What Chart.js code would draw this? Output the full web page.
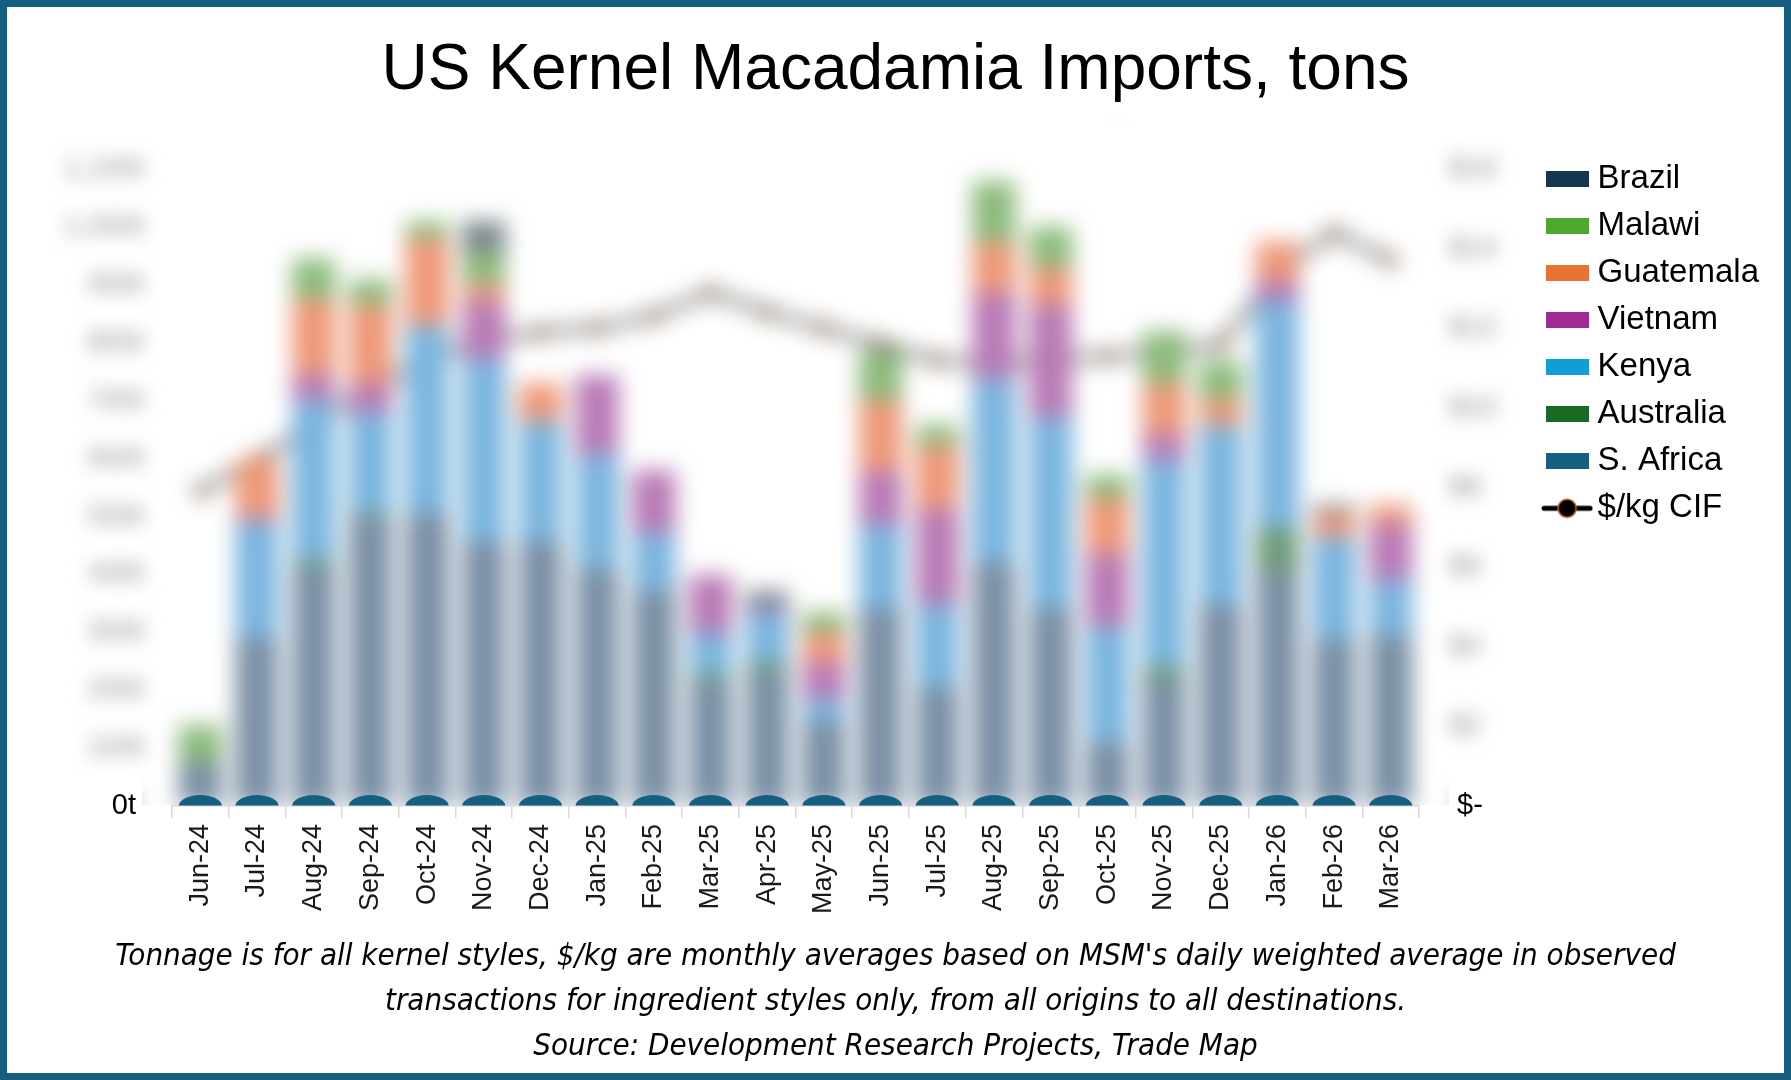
<!DOCTYPE html>
<html><head><meta charset="utf-8">
<script src="https://cdn.jsdelivr.net/npm/chart.js@4.4.1/dist/chart.umd.min.js"></script>
<style>
html,body{margin:0;padding:0;background:#fff;}
#wrap{position:relative;width:1791px;height:1080px;overflow:hidden;background:#fff;}
#frame{position:absolute;left:0;top:0;width:1791px;height:1080px;box-sizing:border-box;border:7px solid #165e80;pointer-events:none;}
canvas{display:block;}
</style></head><body>
<div id="wrap"><canvas id="c" width="1791" height="1080"></canvas><div id="frame"></div></div>
<script>
// ---- data ----
const months = ['Jun-24','Jul-24','Aug-24','Sep-24','Oct-24','Nov-24','Dec-24','Jan-25','Feb-25','Mar-25','Apr-25','May-25','Jun-25','Jul-25','Aug-25','Sep-25','Oct-25','Nov-25','Dec-25','Jan-26','Feb-26','Mar-26'];
const sAfrica   = [70, 290, 410, 500, 505, 457, 457, 410, 372, 212, 229, 148, 342, 206, 421, 342, 110, 215, 347, 406, 288, 295];
const australia = [10, 0, 15, 7, 0, 0, 0, 0, 0, 15, 20, 0, 0, 0, 0, 0, 0, 25, 0, 74, 0, 0];
const kenya     = [0, 200, 275, 173, 325, 316, 208, 197, 100, 72, 86, 36, 143, 143, 316, 330, 200, 358, 310, 392, 177, 96];
const vietnam   = [0, 10, 45, 50, 0, 100, 0, 137, 108, 100, 10, 65, 94, 165, 150, 194, 126, 45, 0, 37, 0, 96];
const guatemala = [0, 100, 130, 136, 150, 28, 65, 0, 0, 0, 0, 51, 122, 108, 87, 65, 96, 88, 45, 66, 40, 33];
const malawi    = [60, 0, 70, 43, 30, 57, 0, 0, 0, 0, 0, 35, 86, 36, 105, 69, 40, 89, 66, 0, 0, 0];
const brazil    = [0, 0, 0, 0, 0, 52, 0, 0, 0, 0, 26, 0, 0, 0, 0, 0, 0, 0, 0, 0, 15, 0];
const priceCIF  = [7.9, 8.7, 9.6, 10.5, 11.2, 11.7, 11.9, 12.0, 12.3, 12.9, 12.4, 12.0, 11.6, 11.2, 11.1, 11.2, 11.3, 11.4, 11.6, 13.4, 14.4, 13.7];

const seriesNames = ['S. Africa','Australia','Kenya','Vietnam','Guatemala','Malawi','Brazil'];
const seriesData  = [sAfrica, australia, kenya, vietnam, guatemala, malawi, brazil];
const lineName = '$/kg CIF';

const leftTickTop = 1100, leftStep = 100;
const rightTickTop = 16, rightStep = 2;
const leftAxisMax = 1135, rightAxisMax = 16.51;

const titleText = 'US Kernel Macadamia Imports, tons';
const footLines = [
  "Tonnage is for all kernel styles, $/kg are monthly averages based on MSM's daily weighted average in observed",
  "transactions for ingredient styles only, from all origins to all destinations.",
  "Source: Development Research Projects, Trade Map"
];

// ---- styles ----
const legendColors = ['#156082','#196b24','#0f9ed5','#a02b93','#e97132','#4ea72e','#12384f'];
const barColors    = ['#7a8fa5','#6f9a7a','#7ab5de','#b87ab5','#ee9878','#8cba7c','#78848a'];
const SANS = "'Liberation Sans', Arial, sans-serif";
const NARROW = "'Liberation Sans Narrow', 'DejaVu Sans Condensed', 'Liberation Sans', sans-serif";

function makeIcon(draw) {
  const c = document.createElement('canvas'); c.width = 52; c.height = 22;
  draw(c.getContext('2d'));
  return c;
}
const lineIcon = makeIcon(g => {
  g.strokeStyle = '#000'; g.lineWidth = 5; g.lineCap = 'round';
  g.beginPath(); g.moveTo(3, 11); g.lineTo(49, 11); g.stroke();
  g.beginPath(); g.arc(26, 11, 9, 0, Math.PI * 2); g.fillStyle = '#000'; g.fill();
  g.lineWidth = 1.5; g.strokeStyle = '#c55a11'; g.stroke();
});
const boxIcons = legendColors.map(col => {
  const c = document.createElement('canvas'); c.width = 43; c.height = 16;
  const g = c.getContext('2d'); g.fillStyle = col; g.fillRect(0, 0, 43, 16);
  return c;
});

const datasets = seriesNames.map((n, i) => ({
  type: 'bar', label: n, data: seriesData[i], backgroundColor: barColors[i],
  borderWidth: 0, stack: 's', yAxisID: 'y', categoryPercentage: 1, barPercentage: 0.76
}));
datasets.push({
  type: 'line', label: lineName, data: priceCIF, yAxisID: 'y1',
  borderColor: '#000', borderWidth: 4, pointRadius: 5, pointBackgroundColor: '#000',
  pointBorderColor: '#c55a11', pointBorderWidth: 1.5, tension: 0, fill: false
});

const blurMarks = {
  id: 'blurMarks',
  afterDatasetsDraw(chart) {
    const {ctx, canvas, chartArea: a} = chart;
    const r = chart.currentDevicePixelRatio || 1;
    const off = document.createElement('canvas');
    off.width = canvas.width; off.height = canvas.height;
    off.getContext('2d').drawImage(canvas, 0, 0);
    ctx.save();
    ctx.setTransform(1, 0, 0, 1, 0, 0);
    const x0 = (a.left - 30) * r, y0 = (a.top - 30) * r, w = (a.width + 60) * r, h = (a.bottom - 1 - a.top + 30) * r;
    ctx.beginPath(); ctx.rect(x0, y0, w, h); ctx.clip();
    ctx.fillStyle = '#fff'; ctx.fillRect(x0, y0, w, h);
    ctx.filter = 'blur(' + (11 * r) + 'px)';
    ctx.drawImage(off, 0, 0);
    ctx.restore();
    const meta = chart.getDatasetMeta(0);
    ctx.save();
    ctx.beginPath(); ctx.rect(a.left, a.top, a.width, a.bottom - a.top - 1); ctx.clip();
    ctx.fillStyle = legendColors[0];
    meta.data.forEach(el => {
      const p = el.getProps(['x', 'width', 'base'], true);
      ctx.beginPath(); ctx.ellipse(p.x, p.base, p.width / 2, 11, 0, Math.PI, 2 * Math.PI); ctx.fill();
    });
    ctx.restore();
  }
};

const tickFontSize = 29;
const blurTicks = {
  id: 'blurTicks',
  afterDraw(chart) {
    const ctx = chart.ctx;
    ['y', 'y1'].forEach(id => {
      const s = chart.scales[id];
      ctx.save();
      ctx.filter = 'blur(9px)';
      ctx.fillStyle = '#8c8c8c';
      ctx.font = tickFontSize + 'px ' + SANS;
      ctx.textBaseline = 'middle';
      ctx.textAlign = id === 'y' ? 'right' : 'left';
      const x = id === 'y' ? s.right - s.options.ticks.padding : s.left + s.options.ticks.padding;
      s.ticks.forEach(t => {
        if (t.value === 0) return;
        ctx.fillText(t.label, x, s.getPixelForValue(t.value));
      });
      ctx.restore();
    });
  }
};

const legendKey = it => (it.text === lineName ? 100 : -it.datasetIndex);

new Chart(document.getElementById('c'), {
  data: { labels: months, datasets },
  plugins: [blurMarks, blurTicks],
  options: {
    responsive: false, animation: false, devicePixelRatio: 1,
    layout: { padding: { left: 22, right: 22, top: 0, bottom: 0 } },
    scales: {
      x: {
        stacked: true,
        grid: { display: true, drawOnChartArea: false, drawTicks: true, tickLength: 12, color: '#d9d9d9', lineWidth: 1.5, offset: true },
        border: { display: true, color: '#d9d9d9', width: 1.5 },
        ticks: { font: { family: SANS, size: 27 }, color: '#1a1a1a', minRotation: 90, maxRotation: 90, padding: 6, autoSkip: false }
      },
      y: {
        stacked: true, position: 'left', min: 0, max: leftAxisMax,
        afterBuildTicks: s => { s.ticks = s.ticks.filter(t => t.value <= leftTickTop); },
        afterFit: s => { s.width = 150; },
        grid: { display: false }, border: { display: false },
        ticks: {
          stepSize: leftStep, maxTicksLimit: 30, includeBounds: false, padding: 28, font: { family: SANS, size: tickFontSize },
          color: c => (c.tick && c.tick.value === 0 ? '#000' : 'rgba(0,0,0,0)'),
          callback: v => (v === 0 ? '0t' : v.toLocaleString('en-US') + 't')
        }
      },
      y1: {
        position: 'right', min: 0, max: rightAxisMax,
        afterBuildTicks: s => { s.ticks = s.ticks.filter(t => t.value <= rightTickTop); },
        afterFit: s => { s.width = 120; },
        grid: { display: false }, border: { display: false },
        ticks: {
          stepSize: rightStep, maxTicksLimit: 30, includeBounds: false, padding: 30, font: { family: SANS, size: tickFontSize },
          color: c => (c.tick && c.tick.value === 0 ? '#000' : 'rgba(0,0,0,0)'),
          callback: v => (v === 0 ? '$-' : '$' + v)
        }
      }
    },
    plugins: {
      tooltip: { enabled: false },
      title: {
        display: true, text: titleText, color: '#000',
        font: { family: SANS, size: 64, weight: 'normal' },
        padding: { top: 33, bottom: 39 }
      },
      subtitle: {
        display: true, position: 'bottom', text: footLines, color: '#000',
        font: { family: NARROW, size: 31, style: 'italic', weight: 'normal', lineHeight: 1.44 },
        padding: { top: 15, bottom: 11 }
      },
      legend: {
        position: 'right', align: 'start', fullSize: false,
        labels: {
          usePointStyle: true, pointStyleWidth: 28, boxHeight: 16, padding: 14,
          font: { family: SANS, size: 33 }, color: '#000',
          generateLabels: chart => chart.data.datasets.map((ds, i) => ({
            text: ds.label, datasetIndex: i, hidden: false,
            fillStyle: ds.type === 'line' ? '#000' : legendColors[i],
            strokeStyle: 'rgba(0,0,0,0)', lineWidth: 0, fontColor: '#000',
            pointStyle: ds.type === 'line' ? lineIcon : boxIcons[i]
          })),
          sort: (a, b) => legendKey(a) - legendKey(b)
        }
      }
    }
  }
});
</script>
</body></html>
